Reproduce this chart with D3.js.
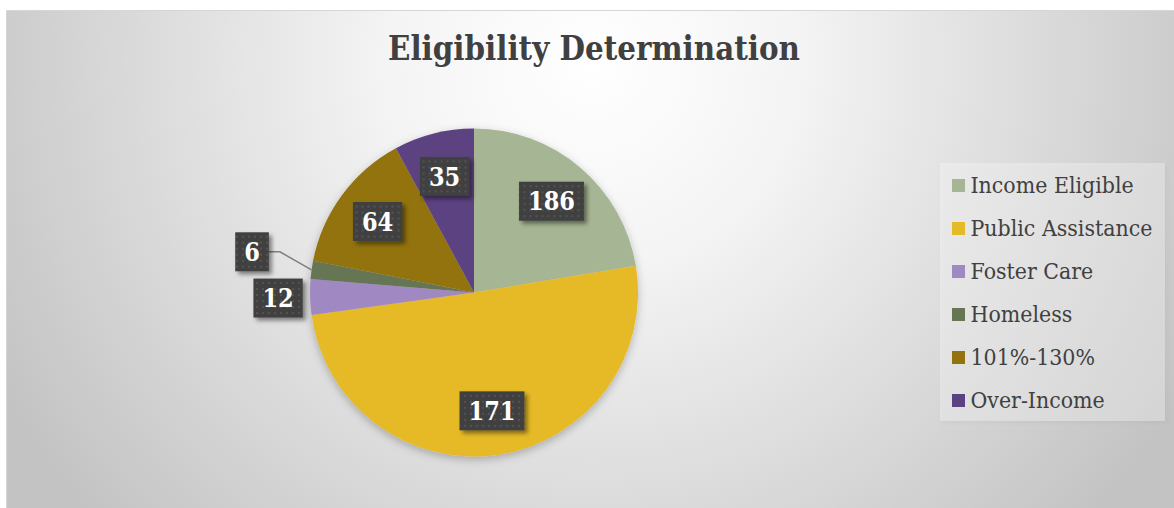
<!DOCTYPE html>
<html>
<head>
<meta charset="utf-8">
<script src="https://cdn.jsdelivr.net/npm/d3@7"></script>
<style>
  html, body { margin: 0; background: #fff; }
  svg { display: block; }
</style>
</head>
<body>
<div id="chart"></div>
<script>
const TITLE = 'Eligibility Determination'
const CATEGORIES = ['Income Eligible', 'Public Assistance', 'Foster Care', 'Homeless', '101%-130%', 'Over-Income']
// slice sizes as drawn (share of the circle, %)
const SHARES = [22.4, 50.4, 3.5, 1.8, 14.0, 7.9]
// the numbers printed in the data labels
const COUNTS = [186, 171, 12, 6, 64, 35]
const COLORS = ['#a6b593', '#e5ba28', '#a088c2', '#667552', '#92730f', '#5b4281']

const W = 1174, H = 508
const CX = 474, CY = 292.5, R = 164
const FONT = "Georgia, 'DejaVu Serif', serif"
const INK = '#404040'
const LEGEND = { x: 940, y: 163, w: 225, h: 258, row0: 185.5, step: 43 }

const rows = CATEGORIES.map((name, i) => ({ name, share: SHARES[i], count: COUNTS[i], color: COLORS[i] }))

const svg = d3.select('#chart').append('svg')
  .attr('width', W).attr('height', H)
  .attr('viewBox', `0 0 ${W} ${H}`)

const defs = svg.append('defs')
const bg = defs.append('radialGradient').attr('id', 'bg')
  .attr('gradientUnits', 'userSpaceOnUse')
  .attr('cx', 592).attr('cy', 60).attr('r', 680)
bg.append('stop').attr('offset', 0).attr('stop-color', '#ffffff')
bg.append('stop').attr('offset', 0.3).attr('stop-color', '#f4f4f4')
bg.append('stop').attr('offset', 1).attr('stop-color', '#c3c3c3')

const dots = defs.append('pattern').attr('id', 'dots')
  .attr('patternUnits', 'userSpaceOnUse').attr('width', 6).attr('height', 6)
dots.append('rect').attr('width', 6).attr('height', 6).attr('fill', '#404040')
dots.append('rect').attr('x', 2).attr('y', 2).attr('width', 2).attr('height', 2).attr('fill', '#535353')

function shadow(id, dx, dy, blur, op) {
  const f = defs.append('filter').attr('id', id)
    .attr('x', '-20%').attr('y', '-20%').attr('width', '150%').attr('height', '150%')
  f.append('feDropShadow').attr('dx', dx).attr('dy', dy)
    .attr('stdDeviation', blur).attr('flood-color', '#000').attr('flood-opacity', op)
}
shadow('pieShadow', 0, 3, 4, 0.25)
shadow('boxShadow', 3, 3, 2, 0.45)
shadow('legShadow', 2, 2, 2, 0.12)

// chart area
svg.append('rect')
  .attr('x', 6.5).attr('y', 10.5).attr('width', W - 6).attr('height', H - 10)
  .attr('fill', 'url(#bg)').attr('stroke', '#d6d6d6')

// width of a string at a given size
function measure(str, size, bold) {
  const t = svg.append('text')
    .attr('font-family', FONT).attr('font-weight', bold ? 'bold' : 'normal')
    .attr('font-size', size).text(str)
  const w = t.node().getComputedTextLength()
  t.remove()
  return w
}
// font size that makes str exactly target wide
function sizeFor(str, target, bold) {
  return 100 * target / measure(str, 100, bold)
}
// DejaVu Serif is wider than Georgia: draw it a bit taller, squeezed to the natural width
function tallText(sel, str, size, bold, tall) {
  const w = measure(str, size, bold)
  return sel.attr('font-family', FONT).attr('font-weight', bold ? 'bold' : 'normal')
    .attr('font-size', size * tall)
    .attr('textLength', w).attr('lengthAdjust', 'spacingAndGlyphs')
    .text(str)
}

// title
tallText(svg.append('text'), TITLE, sizeFor(TITLE, 412, true), true, 1.13)
  .attr('x', 594).attr('y', 60)
  .attr('text-anchor', 'middle')
  .attr('fill', INK)

// pie
const pie = d3.pie().sort(null).value(d => d.share)
const arc = d3.arc().innerRadius(0).outerRadius(R)
const arcs = pie(rows)

svg.append('g')
  .attr('transform', `translate(${CX},${CY})`)
  .attr('filter', 'url(#pieShadow)')
  .selectAll('path')
  .data(arcs)
  .join('path')
  .attr('d', arc)
  .attr('fill', d => d.data.color)

// data labels
const labelSize = sizeFor('186', 47, true)
const BOX_H = 39, PAD = 9, GAP = 7
const placed = []
arcs.forEach(a => {
  const mid = (a.startAngle + a.endAngle) / 2
  const ux = Math.sin(mid), uy = -Math.cos(mid)
  const inside = a.data.share >= 5
  const r = inside ? R * 0.73 : R + 32
  const w = measure(String(a.data.count), labelSize, true) + PAD * 2
  let x = CX + ux * r, y = CY + uy * r
  let moved = false
  if (!inside) {
    for (const p of placed) {
      if (p.inside) continue
      const sy = Math.sign(y - p.y) || -1
      let dx = ux, dy = uy + 0.35 * sy
      const n = Math.hypot(dx, dy); dx /= n; dy /= n
      while (Math.abs(x - p.x) < (w + p.w) / 2 && Math.abs(y - p.y) < BOX_H + GAP) {
        x += dx; y += dy; moved = true
      }
    }
  }
  placed.push({ a, x, y, w, inside, moved, ux, uy })
})

const labels = svg.append('g')

// leader lines for labels pushed away from their slice
placed.filter(p => p.moved).forEach(p => {
  const side = p.x < CX ? 1 : -1
  const x0 = p.x + side * p.w / 2
  const x1 = x0 + side * 11
  labels.append('path')
    .attr('d', d3.line()([[x0, p.y], [x1, p.y], [CX + p.ux * R, CY + p.uy * R]]))
    .attr('fill', 'none').attr('stroke', '#7f7f7f').attr('stroke-width', 1.5)
})

const lab = labels.selectAll('g.lab')
  .data(placed)
  .join('g')
  .attr('class', 'lab')
  .attr('transform', d => `translate(${d.x},${d.y})`)
lab.append('rect')
  .attr('x', d => -d.w / 2).attr('y', -BOX_H / 2)
  .attr('width', d => d.w).attr('height', BOX_H)
  .attr('fill', 'url(#dots)')
  .attr('filter', 'url(#boxShadow)')
lab.append('text')
  .each(function (d) { tallText(d3.select(this), String(d.a.data.count), labelSize, true, 1.13) })
  .attr('x', d => -measure(String(d.a.data.count), labelSize, true) / 2)
  .attr('dy', '0.36em')
  .attr('fill', '#fff')

// legend
const leg = svg.append('g')
leg.append('rect')
  .attr('x', LEGEND.x).attr('y', LEGEND.y)
  .attr('width', LEGEND.w).attr('height', LEGEND.h)
  .attr('fill', '#ffffff').attr('fill-opacity', 0.3)
  .attr('filter', 'url(#legShadow)')

const legSize = sizeFor('Public Assistance', 182, false)

const item = leg.selectAll('g.item')
  .data(rows)
  .join('g')
  .attr('class', 'item')
  .attr('transform', (d, i) => `translate(${LEGEND.x + 12},${LEGEND.row0 + i * LEGEND.step})`)
item.append('rect')
  .attr('x', 0).attr('y', -6.5).attr('width', 13).attr('height', 13)
  .attr('fill', d => d.color)
item.append('text')
  .each(function (d) { tallText(d3.select(this), d.name, legSize, false, 1.05) })
  .attr('x', 18.5).attr('dy', '0.35em')
  .attr('fill', INK)
</script>
</body>
</html>
